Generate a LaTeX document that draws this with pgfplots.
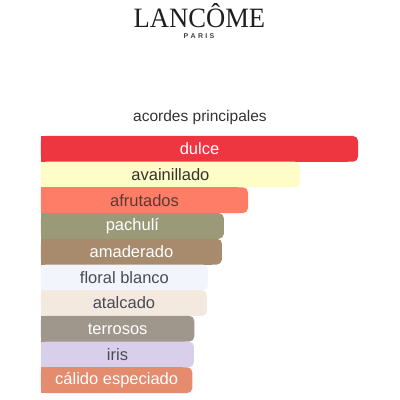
\documentclass[border=0pt]{standalone}
\usepackage{pgfplots}
\pgfplotsset{compat=1.18}
\usepackage{fontspec}
\setmainfont{Liberation Sans}
\newfontfamily\logofont{Liberation Serif}

% bar colours
\definecolor{cDulce}{HTML}{EE3640}
\definecolor{cAvain}{HTML}{FEFCC7}
\definecolor{cAfrut}{HTML}{FE7D66}
\definecolor{cPachu}{HTML}{9A9A78}
\definecolor{cAmade}{HTML}{A88B6C}
\definecolor{cFloral}{HTML}{F2F5FC}
\definecolor{cAtalc}{HTML}{F3E9DF}
\definecolor{cTerro}{HTML}{A0978C}
\definecolor{cIris}{HTML}{D8D0EA}
\definecolor{cCalid}{HTML}{E58B6E}
\definecolor{tDark}{HTML}{333333}
\definecolor{tBrown}{HTML}{5B3A33}
\definecolor{tGray}{HTML}{4A4A55}

% #1 row, #2 value, #3 fill, #4 text colour, #5 label
\newcommand{\accord}[5]{%
  \addplot[draw=none, fill=#3, rounded corners=5pt] coordinates {(#2,#1)};
  \addplot[draw=none, fill=#3] coordinates {(#2-3,#1)};
  \node[text=#4, font=\fontsize{16.5}{18}\selectfont] at (axis cs:{#2/2},#1) {#5};
}

\begin{document}
\begin{tikzpicture}
\useasboundingbox (0,0) rectangle (400pt,400pt);
\node[inner sep=0pt, font=\logofont\fontsize{28}{30}\selectfont, text=black!88, anchor=base, xscale=0.95] at (199.5pt,372pt) {LANCÔME};
\node[inner sep=0pt, font=\bfseries\fontsize{7}{7}\selectfont, text=black!75, anchor=base] at (199pt,361pt) {P\,\,A\,\,R\,\,I\,\,S};
\node[font=\fontsize{15.5}{17}\selectfont, text=black!80, anchor=base] at (200pt,278pt) {acordes principales};
\begin{axis}[
  at={(41pt,7pt)}, anchor=south west,
  scale only axis, width=359pt, height=257pt,
  xmin=0, xmax=112.9, ymin=-0.5, ymax=9.5,
  y dir=reverse, hide axis, clip=false,
  xbar, bar width=25.7pt, bar shift=0pt,
]
\accord{0}{99.7}{cDulce}{white}{dulce}
\accord{1}{81.4}{cAvain}{tDark}{avainillado}
\accord{2}{65.1}{cAfrut}{tBrown}{afrutados}
\accord{3}{57.5}{cPachu}{white}{pachulí}
\accord{4}{56.9}{cAmade}{white}{amaderado}
\accord{5}{52.5}{cFloral}{tGray}{floral blanco}
\accord{6}{52.2}{cAtalc}{tGray}{atalcado}
\accord{7}{48.2}{cTerro}{white}{terrosos}
\accord{8}{48.1}{cIris}{tGray}{iris}
\accord{9}{47.6}{cCalid}{white}{cálido especiado}
\end{axis}
\end{tikzpicture}
\end{document}
